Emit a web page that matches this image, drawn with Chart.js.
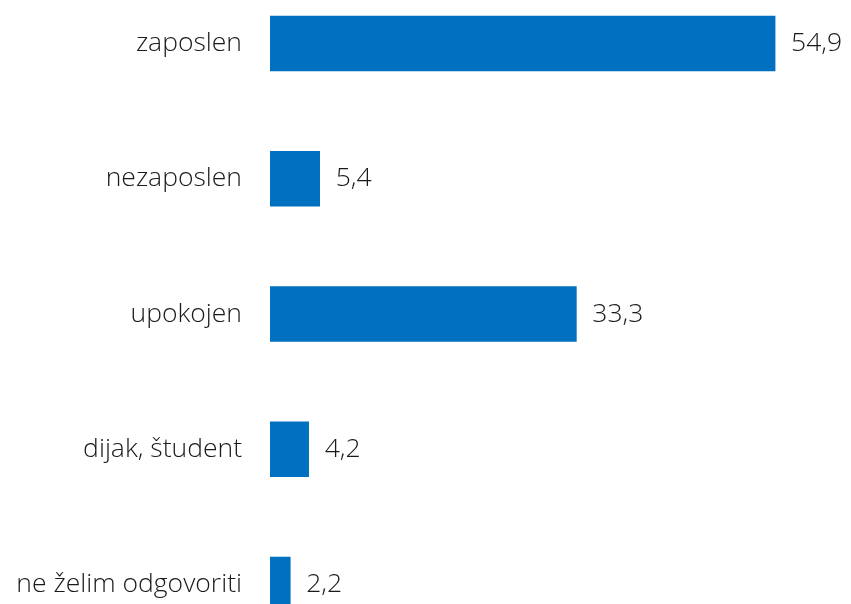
<!DOCTYPE html>
<html>
<head>
<meta charset="utf-8">
<script src="https://cdn.jsdelivr.net/npm/chart.js@4/dist/chart.umd.min.js"></script>
<style>
  html, body { margin: 0; padding: 0; background: #fff; overflow: hidden; }
  #wrap { position: absolute; left: 0; top: -68px; width: 851px; height: 764px; }
</style>
</head>
<body>
<div id="wrap"><canvas id="myChart" width="851" height="764"></canvas></div>
<script>
var categories = ["zaposlen", "nezaposlen", "upokojen", "dijak, študent", "ne želim odgovoriti"];
var values = [54.9, 5.4, 33.3, 4.2, 2.2];

// value labels right of each bar, comma as decimal separator
var valueLabels = {
  id: "valueLabels",
  afterDatasetsDraw: function (chart) {
    var ctx = chart.ctx;
    var meta = chart.getDatasetMeta(0);
    ctx.save();
    ctx.font = "300 26.5px 'Open Sans'";
    ctx.fillStyle = "#1a1a1a";
    ctx.textAlign = "left";
    ctx.textBaseline = "middle";
    meta.data.forEach(function (bar, i) {
      var txt = values[i].toFixed(1).replace(".", ",");
      ctx.fillText(txt, bar.x + 16, bar.y);
    });
    ctx.restore();
  }
};

window.addEventListener("load", function () {
  var chartdata = document.getElementById("myChart").getContext("2d");
  var chart = new Chart(chartdata, {
    type: "bar",
    data: {
      labels: categories,
      datasets: [
        {
          data: values,
          backgroundColor: "#0070C0",
          borderWidth: 0,
          barThickness: 55
        }
      ]
    },
    options: {
      indexAxis: "y",
      responsive: false,
      animation: false,
      devicePixelRatio: 1,
      layout: { padding: { top: 0, bottom: 0, left: 0, right: 29 } },
      plugins: {
        legend: { display: false },
        tooltip: { enabled: false }
      },
      scales: {
        x: {
          min: 0,
          max: 60,
          display: false
        },
        y: {
          grid: { display: false, drawTicks: false },
          border: { display: false },
          afterFit: function (scale) { scale.width = 270; },
          ticks: {
            color: "#1a1a1a",
            padding: 28,
            font: { family: "'Open Sans'", size: 26.5, weight: 300 }
          }
        }
      }
    },
    plugins: [valueLabels]
  });
});
</script>
</body>
</html>
